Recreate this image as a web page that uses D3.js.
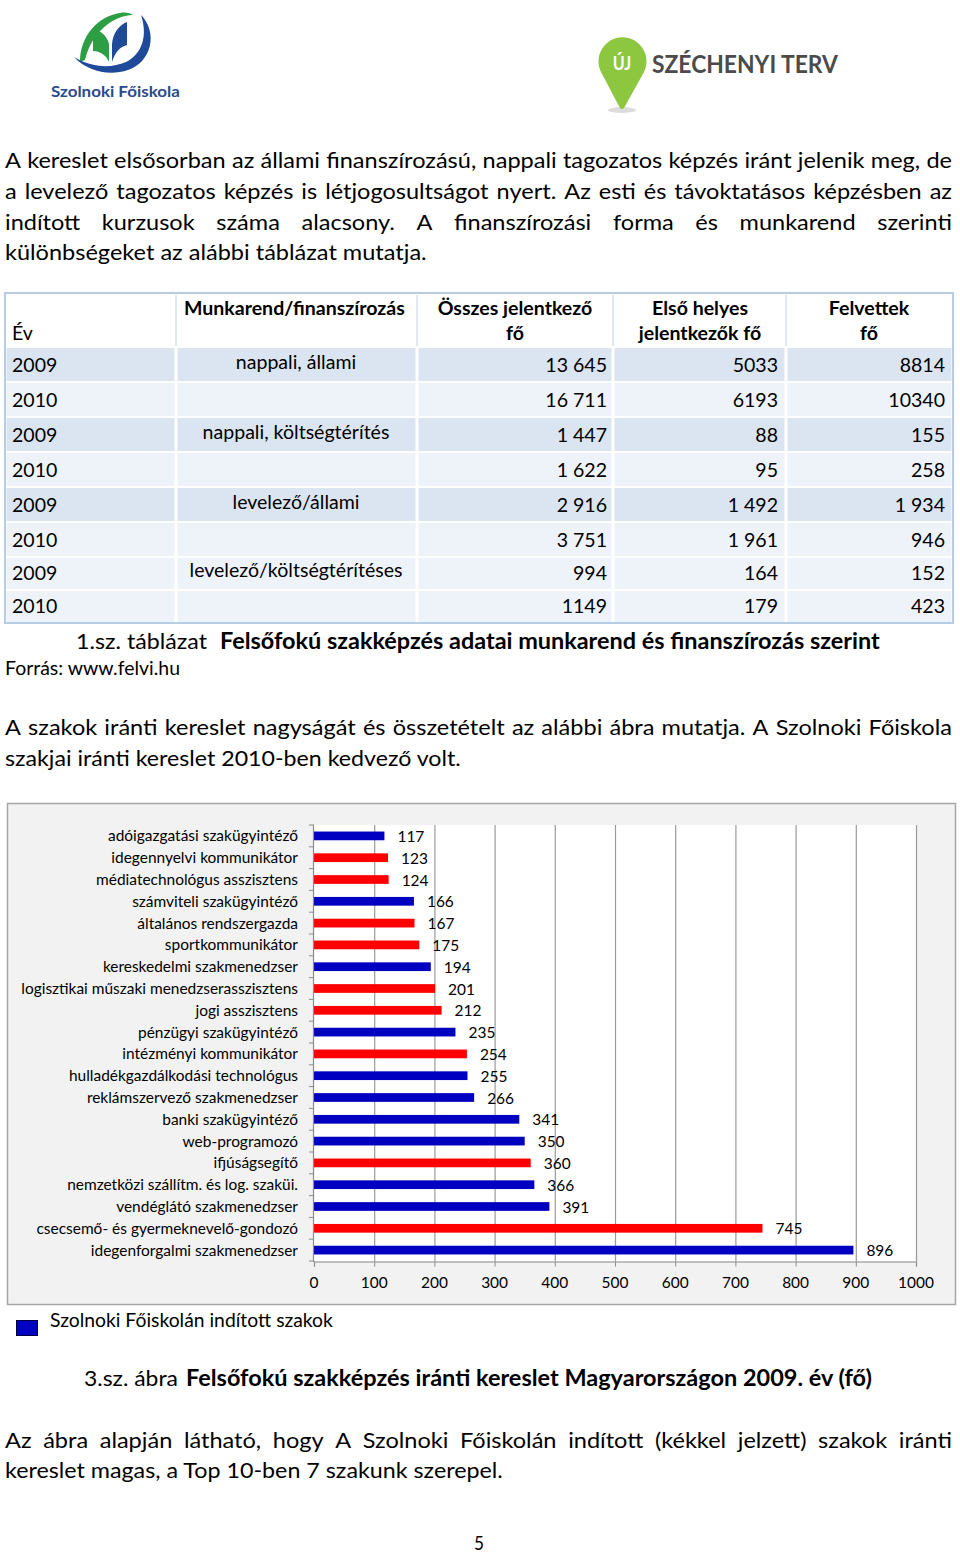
<!DOCTYPE html>
<html><head><meta charset="utf-8">
<script src="https://cdn.jsdelivr.net/npm/d3@7"></script>
<style>
body{margin:0;background:#fff}
svg{display:block}
text{font-family:Lato,"Open Sans",sans-serif;fill:#000}
</style></head>
<body><svg id="page" width="960" height="1555"></svg>
<script>
// ---------- DATA ----------
const categories = [
  "adóigazgatási szakügyintéző","idegennyelvi kommunikátor","médiatechnológus asszisztens",
  "számviteli szakügyintéző","általános rendszergazda","sportkommunikátor",
  "kereskedelmi szakmenedzser","logisztikai műszaki menedzserasszisztens","jogi asszisztens",
  "pénzügyi szakügyintéző","intézményi kommunikátor","hulladékgazdálkodási technológus",
  "reklámszervező szakmenedzser","banki szakügyintéző","web-programozó","ifjúságsegítő",
  "nemzetközi szállítm. és log. szaküi.","vendéglátó szakmenedzser",
  "csecsemő- és gyermeknevelő-gondozó","idegenforgalmi szakmenedzser"];
const values = [117,123,124,166,167,175,194,201,212,235,254,255,266,341,350,360,366,391,745,896];
const launched = [1,0,0,1,0,0,1,0,0,1,0,1,1,1,1,0,1,1,0,1]; // 1 = Szolnoki Főiskolán indított
const xTicks = [0,100,200,300,400,500,600,700,800,900,1000];
const legendLabel = "Szolnoki Főiskolán indított szakok";

const tableYears = ["2009","2010","2009","2010","2009","2010","2009","2010"];
const tableGroups = ["nappali, állami","nappali, költségtérítés","levelező/állami","levelező/költségtérítéses"];
const tableTotal = ["13 645","16 711","1 447","1 622","2 916","3 751","994","1149"];
const tableFirst = ["5033","6193","88","95","1 492","1 961","164","179"];
const tableAdmitted = ["8814","10340","155","258","1 934","946","152","423"];

const para1 = [
  "A kereslet elsősorban az állami finanszírozású, nappali tagozatos képzés iránt jelenik meg, de",
  "a levelező tagozatos képzés is létjogosultságot nyert. Az esti és távoktatásos képzésben az",
  "indított kurzusok száma alacsony. A finanszírozási forma és munkarend szerinti",
  "különbségeket az alábbi táblázat mutatja."];
const para2 = [
  "A szakok iránti kereslet nagyságát és összetételt az alábbi ábra mutatja. A Szolnoki Főiskola",
  "szakjai iránti kereslet 2010-ben kedvező volt."];
const para3 = [
  "Az ábra alapján látható, hogy A Szolnoki Főiskolán indított (kékkel jelzett) szakok iránti",
  "kereslet magas, a Top 10-ben 7 szakunk szerepel."];

// ---------- HELPERS ----------
const svg = d3.select("#page");
const BLUE = "#0000c0", RED = "#ff0000";

function measure(str, size, bold){
  const t = svg.append("text").attr("font-size",size).attr("font-weight",bold?700:400).text(str);
  const w = t.node().getComputedTextLength(); t.remove(); return w;
}
function stext(parent, x, y, str, o){
  const g = parent.append("g").attr("transform",`translate(${x},${y}) scale(${o.sx||1},1)`);
  const t = g.append("text").attr("font-size",o.size).attr("font-weight",o.bold?700:400)
    .attr("text-anchor",o.anchor||"start").text(str);
  if (o.fill) t.style("fill",o.fill);
  return t;
}
function fitText(parent, x, y, str, size, width, bold){
  const w = measure(str,size,bold);
  return stext(parent, x, y, str, {size, bold, sx: width/w});
}
function justify(parent, x, y, str, size, width, sx){
  const words = str.split(" ");
  const ws = words.map(w => measure(w,size,false)*sx);
  const total = d3.sum(ws);
  const gap = (width - total)/(words.length-1);
  let cx = x;
  words.forEach((w,i)=>{ stext(parent, cx, y, w, {size, sx}); cx += ws[i] + gap; });
}

// ---------- LOGOS ----------
const logo = svg.append("g");
logo.append("path").attr("d","M80,62 C80,36 98,16 120,13 C126,12 130,13 133,15 C112,16 92,32 85,60 Z").attr("fill","#2e9e44");
logo.append("path").attr("d","M141,15 C158,32 152,62 128,70 C110,76 88,72 74,57 C90,67 110,69 126,62 C142,54 148,36 141,15 Z").attr("fill","#1f4a9a");
logo.append("path").attr("d","M93,30 C101,30 107,36 109,44 L109,62 C106,55 100,51 93,51 Z").attr("fill","#2e9e44");
logo.append("path").attr("d","M127,22 C119,25 113,33 112,44 L112,62 C115,52 120,47 127,45 Z").attr("fill","#1f4a9a");
fitText(logo, 51, 97, "Szolnoki Főiskola", 16, 129, true).style("fill","#2b4a8c");

const pin = svg.append("g");
pin.append("ellipse").attr("cx",622).attr("cy",110).attr("rx",14).attr("ry",3).attr("fill","#ddd");
pin.append("path").attr("d","M601,72 A24,24 0 1 1 644,72 L624,108 Q622,110 620,108 Z").attr("fill","#8dc63f");
stext(pin, 622, 70, "ÚJ", {size:19, bold:true, anchor:"middle", fill:"#fff", sx:0.85});
fitText(pin, 652, 73, "SZÉCHENYI TERV", 25, 186, true).style("fill","#4b4b4b");

// ---------- PARAGRAPHS ----------
const P = 22;
const lastW = measure(para1[3],P,false);
const pSx = 422/lastW;
const pg = svg.append("g");
[168,199,230].forEach((y,i)=> justify(pg, 5, y, para1[i], P, 947, pSx));
stext(pg, 5, 260, para1[3], {size:P, sx:pSx});
justify(pg, 5, 735, para2[0], P, 947, pSx);
fitText(pg, 5, 766, para2[1], P, 456);
justify(pg, 5, 1448, para3[0], P, 947, pSx);
fitText(pg, 5, 1478, para3[1], P, 498);

fitText(pg, 76, 649, "1.sz. táblázat", P, 131);
fitText(pg, 220, 649, "Felsőfokú szakképzés adatai munkarend és finanszírozás szerint", P, 660, true);
fitText(pg, 5, 675, "Forrás: www.felvi.hu", 19, 175);
fitText(pg, 84, 1386, "3.sz. ábra", P, 94);
fitText(pg, 186, 1386, "Felsőfokú szakképzés iránti kereslet Magyarországon 2009. év (fő)", P, 686, true);
stext(pg, 479, 1550, "5", {size:19, anchor:"middle", sx:0.9});

// ---------- TABLE ----------
const tg = svg.append("g");
const colX = [5,176,417,613,786,953];
const rowY = [347,382,417,452,487,522,557,590,623];
const TS = 19;
const tSx = 221/measure("Munkarend/finanszírozás",TS,true);
tg.append("rect").attr("x",5).attr("y",293).attr("width",948).attr("height",330).attr("fill","#fff");
for (let r=0;r<8;r++){
  const fill = (r===0||r===2||r===4) ? "#dbe5f1" : "#eef3fa";
  for (let c=0;c<5;c++){
    tg.append("rect").attr("x",colX[c]+1.5).attr("y",rowY[r]+1)
      .attr("width",colX[c+1]-colX[c]-3).attr("height",rowY[r+1]-rowY[r]-2).attr("fill",fill);
  }
}
colX.slice(1,5).forEach(x=> tg.append("line").attr("x1",x).attr("x2",x).attr("y1",295).attr("y2",346).attr("stroke","#dfe8f3").attr("stroke-width",2));
tg.append("rect").attr("x",5).attr("y",293).attr("width",948).attr("height",330)
  .attr("fill","none").attr("stroke","#b8cce4").attr("stroke-width",2);
stext(tg, 12, 340, "Év", {size:TS, sx:tSx});
stext(tg, 184, 315, "Munkarend/finanszírozás", {size:TS, bold:true, sx:tSx});
[["Összes jelentkező","fő",515],["Első helyes","jelentkezők fő",700],["Felvettek","fő",869]].forEach(h=>{
  stext(tg, h[2], 315, h[0], {size:TS, bold:true, anchor:"middle", sx:tSx});
  stext(tg, h[2], 340, h[1], {size:TS, bold:true, anchor:"middle", sx:tSx});
});
const rowBase = [372,407,442,477,512,547,580,613];
tableYears.forEach((yr,i)=>{
  stext(tg, 12, rowBase[i], yr, {size:TS, sx:tSx});
  stext(tg, 607, rowBase[i], tableTotal[i], {size:TS, anchor:"end", sx:tSx});
  stext(tg, 778, rowBase[i], tableFirst[i], {size:TS, anchor:"end", sx:tSx});
  stext(tg, 945, rowBase[i], tableAdmitted[i], {size:TS, anchor:"end", sx:tSx});
});
[369,439,509,577].forEach((y,i)=> stext(tg, 296, y, tableGroups[i], {size:TS, anchor:"middle", sx:tSx}));

// ---------- CHART ----------
const cg = svg.append("g");
cg.append("rect").attr("x",7.5).attr("y",803.5).attr("width",948).attr("height",501)
  .attr("fill","#f2f2f2").attr("stroke","#a6a6a6").attr("stroke-width",1.5);
const x = d3.scaleLinear().domain([0,1000]).range([314,916]);
const y = d3.scaleBand().domain(categories).range([825,1261]).paddingInner(0.6).paddingOuter(0.3);
cg.append("rect").attr("x",x(0)).attr("y",825).attr("width",x(1000)-x(0)).attr("height",1261-825).attr("fill","#fff");
cg.selectAll("line.grid").data(xTicks.slice(1)).join("line").attr("class","grid")
  .attr("x1",d=>x(d)+0.5).attr("x2",d=>x(d)+0.5).attr("y1",825).attr("y2",1261)
  .attr("stroke","#9a9a9a").attr("stroke-width",1.2);
cg.selectAll("rect.bar").data(values).join("rect").attr("class","bar")
  .attr("x",x(0)).attr("y",(d,i)=>y(categories[i]))
  .attr("width",d=>x(d)-x(0)).attr("height",y.bandwidth())
  .attr("fill",(d,i)=>launched[i]?BLUE:RED);
const xAxis = cg.append("g").attr("transform","translate(0,1261.5)")
  .call(d3.axisBottom(x).tickValues(xTicks).tickSize(5).tickFormat(""));
xAxis.select(".domain").attr("stroke","#8c8c8c").attr("stroke-width",1.2);
xAxis.selectAll(".tick line").attr("stroke","#8c8c8c");
const step = y.step();
const yEdges = d3.range(categories.length+1).map(i=> y.range()[0] + i*step);
cg.append("line").attr("x1",x(0)-0.5).attr("x2",x(0)-0.5).attr("y1",825).attr("y2",1262).attr("stroke","#8c8c8c").attr("stroke-width",1.2);
cg.selectAll("line.ytick").data(yEdges).join("line").attr("class","ytick")
  .attr("x1",x(0)-5).attr("x2",x(0)).attr("y1",d=>d).attr("y2",d=>d).attr("stroke","#8c8c8c");

const CS = 15.5;
const cSx = 277/measure("logisztikai műszaki menedzserasszisztens",CS,false);
categories.forEach((c,i)=>{
  stext(cg, 298, y(c)+y.bandwidth()/2+5.5, c, {size:CS, anchor:"end", sx:cSx});
  stext(cg, x(values[i])+13, y(c)+y.bandwidth()/2+6, String(values[i]), {size:CS, sx:cSx});
});
xTicks.forEach(t=> stext(cg, x(t), 1288, String(t), {size:CS, anchor:"middle", sx:cSx}));

cg.append("rect").attr("x",16.5).attr("y",1320.5).attr("width",21).attr("height",15).attr("fill",BLUE).attr("stroke","#000040");
fitText(cg, 50, 1327, legendLabel, 19, 283);
</script>
</body></html>
